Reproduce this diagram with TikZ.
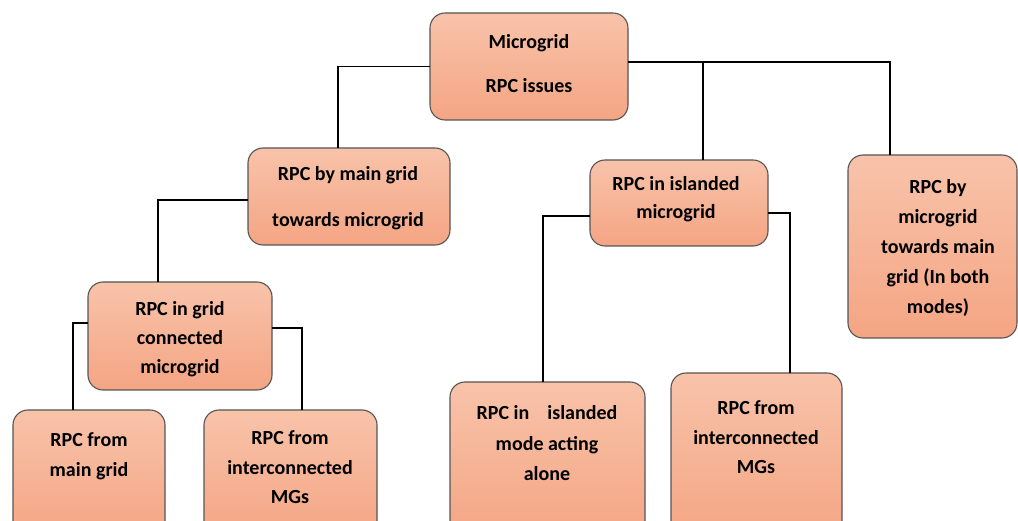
\documentclass[tikz,border=0pt]{standalone}
\usepackage{fontspec}
\setmainfont{Carlito}
\usetikzlibrary{calc}
\definecolor{boxtop}{HTML}{F8C3AA}
\definecolor{boxbot}{HTML}{F4A583}
\definecolor{boxline}{HTML}{555555}
\tikzset{
  box/.style={draw=boxline, line width=1.1pt, rounded corners=15pt,
    top color=boxtop, bottom color=boxbot, shading angle=0,
    inner sep=0pt, outer sep=0pt},
  txt/.style={align=center, inner sep=0pt, font=\bfseries\fontsize{20}{30}\selectfont},
  conn/.style={draw=black, line width=1.6pt}
}
\begin{document}
\begin{tikzpicture}[x=1pt,y=-1pt]
\useasboundingbox (0,0) rectangle (1018,521);
% boxes
\node[box, minimum width=198pt, minimum height=107pt] (root) at (529,66.5) {};
\node[box, minimum width=202pt, minimum height=97pt]  (b2) at (349,196.5) {};
\node[box, minimum width=178pt, minimum height=86pt]  (b3) at (679,203) {};
\node[box, minimum width=169pt, minimum height=183pt] (b4) at (932.5,246.5) {};
\node[box, minimum width=184pt, minimum height=108pt] (b5) at (180,336) {};
\node[box, minimum width=152pt, minimum height=130pt] (b6) at (89,475) {};
\node[box, minimum width=173pt, minimum height=130pt] (b7) at (290.5,475) {};
\node[box, minimum width=195pt, minimum height=158pt] (b8) at (547.5,461) {};
\node[box, minimum width=171pt, minimum height=167pt] (b9) at (756.5,456.5) {};
% texts
\node[txt, font=\bfseries\fontsize{20}{44}\selectfont] (t1) at (529,64) {Microgrid\\RPC issues};
\node[txt, font=\bfseries\fontsize{20}{46}\selectfont] (t2) at (348,198) {RPC by main grid\\towards microgrid};
\node[txt, font=\bfseries\fontsize{20}{28}\selectfont] (t3) at (676,199) {RPC in islanded\\microgrid};
\node[txt] (t4) at (938,248) {RPC by\\microgrid\\towards main\\grid (In both\\modes)};
\node[txt, font=\bfseries\fontsize{20}{29}\selectfont] (t5) at (180,339) {RPC in grid\\connected\\microgrid};
\node[txt] (t6) at (89,456) {RPC from\\main grid};
\node[txt, font=\bfseries\fontsize{20}{29.5}\selectfont] (t7) at (290,467.5) {RPC from\\interconnected\\MGs};
\node[txt, font=\bfseries\fontsize{20}{30.5}\selectfont] (t8) at (547,443.5) {RPC in\hspace{0.9em}islanded\\mode acting\\alone};
\node[txt, font=\bfseries\fontsize{20}{29.5}\selectfont] (t9) at (756,437.5) {RPC from\\interconnected\\MGs};
% connectors
\coordinate (rj) at ([yshift=4.5pt]root.east);
\draw[conn] (root.west) -| ([xshift=-11pt]b2.north);
\draw[conn] (rj) -| ([xshift=-42.5pt]b4.north);
\coordinate (b3n) at ([xshift=24pt]b3.north);
\draw[conn] (b3n) -- (b3n |- rj);
\draw[conn] ([yshift=-3.5pt]b2.west) -| ([xshift=-22pt]b5.north);
\draw[conn] ([yshift=13pt]b5.west) -| ([xshift=-16pt]b6.north);
\draw[conn] ([yshift=8pt]b5.east) -| ([xshift=11.5pt]b7.north);
\draw[conn] ([yshift=-13pt]b3.west) -| ([xshift=-4.5pt]b8.north);
\draw[conn] ([yshift=-10pt]b3.east) -| ([xshift=33.5pt]b9.north);
\end{tikzpicture}
\end{document}
